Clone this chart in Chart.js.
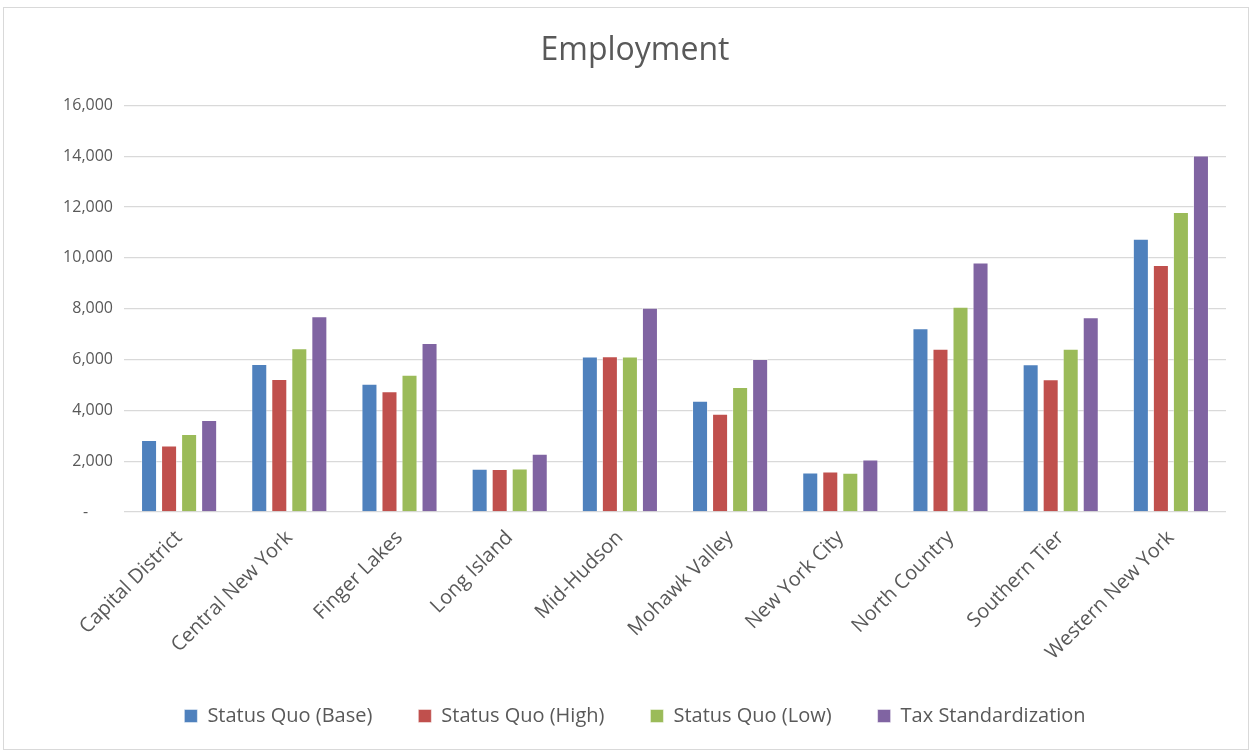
<!DOCTYPE html>
<html>
<head>
<meta charset="utf-8">
<script src="https://cdn.jsdelivr.net/npm/chart.js@4/dist/chart.umd.min.js"></script>
<style>
  html, body { margin: 0; padding: 0; background: #fff; }
  #frame { position: absolute; left: 3px; top: 7px; width: 1246px; height: 743px; border: 1px solid #d9d9d9; box-sizing: border-box; }
  #wrap { position: absolute; left: 0; top: 0; width: 1252px; height: 752px; }
</style>
</head>
<body>
<div id="frame"></div>
<div id="wrap"><canvas id="employment"></canvas></div>
<script>
var regions = ["Capital District", "Central New York", "Finger Lakes", "Long Island", "Mid-Hudson",
               "Mohawk Valley", "New York City", "North Country", "Southern Tier", "Western New York"];

var statusQuoBase = [2830, 5820, 5050, 1700, 6120, 4380, 1550, 7230, 5810, 10750];
var statusQuoHigh = [2620, 5230, 4750, 1690, 6130, 3870, 1590, 6420, 5220, 9720];
var statusQuoLow  = [3070, 6440, 5400, 1710, 6120, 4920, 1540, 8080, 6420, 11810];
var taxStandard   = [3620, 7700, 6650, 2290, 8040, 6020, 2070, 9820, 7660, 14030];

var yTicks = [0, 2000, 4000, 6000, 8000, 10000, 12000, 14000, 16000];

var grey = "#595959";
var font = "'Open Sans', 'Noto Sans', sans-serif";

function series(label, data, color) {
    return {
        label: label,
        data: data,
        backgroundColor: color,
        borderColor: "rgba(255,255,255,0.45)",
        borderWidth: 1,
        categoryPercentage: 0.727,
        barPercentage: 0.8
    };
}

new Chart(document.getElementById("employment"), {
    type: "bar",
    data: {
        labels: regions,
        datasets: [
            series("Status Quo (Base)", statusQuoBase, "#4F81BD"),
            series("Status Quo (High)", statusQuoHigh, "#C0504D"),
            series("Status Quo (Low)", statusQuoLow, "#9BBB59"),
            series("Tax Standardization", taxStandard, "#8064A2")
        ]
    },
    options: {
        responsive: true,
        maintainAspectRatio: false,
        animation: false,
        layout: { padding: { left: 18, right: 0, top: 0, bottom: 16 } },
        plugins: {
            title: {
                display: true,
                text: "Employment",
                color: grey,
                font: { family: font, size: 32, weight: "normal" },
                padding: { top: 32, bottom: 35 }
            },
            legend: {
                position: "bottom",
                labels: {
                    color: grey,
                    font: { family: font, size: 20 },
                    boxWidth: 13,
                    boxHeight: 13,
                    padding: 46
                }
            },
            tooltip: { enabled: false }
        },
        scales: {
            x: {
                grid: { display: false },
                border: { display: false },
                ticks: {
                    color: grey,
                    font: { family: font, size: 20 },
                    minRotation: 45,
                    maxRotation: 45,
                    padding: 6
                },
                afterFit: function(scale) { scale.height = 148; }
            },
            y: {
                min: 0,
                max: 16000,
                afterBuildTicks: function(scale) {
                    scale.ticks = yTicks.map(function(v) { return { value: v }; });
                },
                grid: { color: "#d9d9d9", lineWidth: 1.3, drawTicks: false },
                border: { display: false },
                ticks: {
                    color: grey,
                    font: { family: font, size: 16 },
                    padding: 11,
                    callback: function(v) {
                        return v === 0 ? "-\u00a0\u00a0\u00a0\u00a0\u00a0\u00a0" : v.toLocaleString("en-US");
                    }
                },
                afterFit: function(scale) { scale.width = 106; }
            },
            // empty right-hand axis, only reserves the margin beside the plot
            pad: {
                position: "right",
                display: true,
                grid: { display: false },
                border: { display: false },
                ticks: { display: false },
                afterFit: function(scale) { scale.width = 26; }
            }
        }
    }
});
</script>
</body>
</html>
